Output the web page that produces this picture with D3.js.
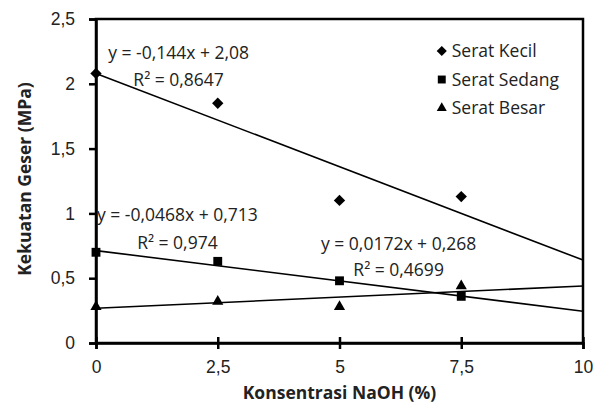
<!DOCTYPE html>
<html>
<head>
<meta charset="utf-8">
<script src="https://cdn.jsdelivr.net/npm/d3@7"></script>
<style>
  body { margin: 0; background: #fff; }
  svg { font-family: "Open Sans", sans-serif; }
</style>
</head>
<body>
<svg id="chart" width="603" height="406"></svg>
<script>
// data
var konsentrasi = [0, 2.5, 5, 7.5]
var seratKecil = [2.08, 1.85, 1.10, 1.13]
var seratSedang = [0.70, 0.63, 0.48, 0.36]
var seratBesar = [0.28, 0.32, 0.28, 0.44]
var seriesNames = ["Serat Kecil", "Serat Sedang", "Serat Besar"]
var trendSlope = [-0.144, -0.0468, 0.0172]
var trendIntercept = [2.08, 0.713, 0.268]
var trendEq = ["y = -0,144x + 2,08", "y = -0,0468x + 0,713", "y = 0,0172x + 0,268"]
var trendR2 = ["R² = 0,8647", "R² = 0,974", "R² = 0,4699"]
var xTicks = [0, 2.5, 5, 7.5, 10]
var yTicks = [0, 0.5, 1, 1.5, 2, 2.5]

var margin = {top: 19, right: 20, bottom: 63, left: 96}
var width = 603 - margin.left - margin.right
var height = 406 - margin.top - margin.bottom
var fs = 17.5

var svg = d3.select("#chart")
  .append("g")
  .attr("transform", "translate(" + margin.left + "," + margin.top + ")")

var x = d3.scaleLinear().domain([0, 10]).range([0, width])
var y = d3.scaleLinear().domain([0, 2.5]).range([height, 0])
var fmt = function(d) { return String(d).replace(".", ",") }

// frame
svg.append("rect")
  .attr("width", width)
  .attr("height", height)
  .attr("fill", "none")
  .attr("stroke", "#000")
  .attr("stroke-width", 2.5)

var yAxis = svg.append("g")
  .call(d3.axisLeft(y).tickValues(yTicks).tickFormat(fmt).tickSize(7).tickPadding(14))
var xAxis = svg.append("g")
  .attr("transform", "translate(0," + height + ")")
  .call(d3.axisBottom(x).tickValues(xTicks).tickFormat(fmt).tickSize(6).tickPadding(12))
xAxis.selectAll(".tick line").attr("y1", -6)
;[yAxis, xAxis].forEach(function(a) {
  a.select(".domain").attr("stroke-width", 2.5)
  a.selectAll(".tick line").attr("stroke-width", 2.5)
  a.selectAll("text").attr("font-size", fs).attr("fill", "#222")
})

// trendlines
var trend = svg.append("g")
trendSlope.forEach(function(m, i) {
  trend.append("line")
    .attr("x1", x(0)).attr("y1", y(trendIntercept[i]))
    .attr("x2", x(10)).attr("y2", y(m * 10 + trendIntercept[i]))
    .attr("stroke", "#000")
    .attr("stroke-width", 1.6)
})

// points
var symbols = [d3.symbolDiamond2, d3.symbolSquare2, d3.symbolTriangle2]
var sizes = [82, 100, 90]
var allSeries = [seratKecil, seratSedang, seratBesar]
allSeries.forEach(function(vals, i) {
  svg.append("g").selectAll("path")
    .data(vals)
    .enter()
    .append("path")
    .attr("transform", function(d, j) {
      return "translate(" + x(konsentrasi[j]) + "," + y(d) + ")"
    })
    .attr("d", d3.symbol().type(symbols[i]).size(sizes[i]))
    .attr("fill", "#000")
})

// equation labels
var eqPos = [[0.25, 2.19, 1.98], [0.02, 0.94, 0.725], [4.62, 0.72, 0.52]]
var labels = svg.append("g").attr("font-size", fs).attr("fill", "#222")
eqPos.forEach(function(p, i) {
  var t = labels.append("text")
    .attr("x", x(p[0]))
    .attr("y", y(p[1]))
    .text(trendEq[i])
  var w = t.node().getComputedTextLength()
  labels.append("text")
    .attr("x", x(p[0]) + w / 2)
    .attr("y", y(p[2]))
    .attr("text-anchor", "middle")
    .text(trendR2[i])
})

// legend
var legend = svg.append("g")
  .attr("transform", "translate(" + x(7.1) + "," + y(2.253) + ")")
seriesNames.forEach(function(n, i) {
  var row = legend.append("g").attr("transform", "translate(0," + i * 28.5 + ")")
  row.append("path")
    .attr("d", d3.symbol().type(symbols[i]).size(sizes[i] * 0.8))
    .attr("fill", "#000")
  row.append("text")
    .attr("x", 10)
    .attr("y", 6)
    .attr("font-size", fs)
    .attr("fill", "#222")
    .text(n)
})

// axis titles
svg.append("text")
  .attr("x", width / 2)
  .attr("y", height + 56)
  .attr("text-anchor", "middle")
  .attr("font-weight", "bold")
  .attr("font-size", fs)
  .attr("fill", "#222")
  .text("Konsentrasi NaOH (%)")
svg.append("text")
  .attr("transform", "rotate(-90)")
  .attr("x", -height / 2 + 2)
  .attr("y", -65)
  .attr("text-anchor", "middle")
  .attr("font-weight", "bold")
  .attr("font-size", fs)
  .attr("fill", "#222")
  .text("Kekuatan Geser (MPa)")
</script>
</body>
</html>
